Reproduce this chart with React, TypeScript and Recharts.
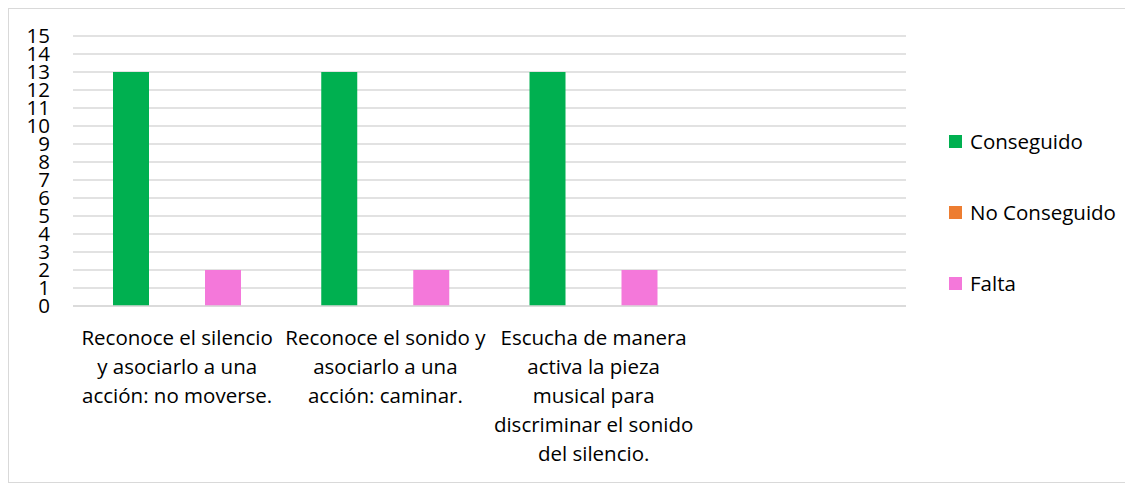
import React from 'react';
import { BarChart, Bar, XAxis, YAxis, CartesianGrid, Legend } from 'recharts';

const categories = [
  'Reconoce el silencio\ny asociarlo a una\nacción: no moverse.',
  'Reconoce el sonido y\nasociarlo a una\nacción: caminar.',
  'Escucha de manera\nactiva la pieza\nmusical para\ndiscriminar el sonido\ndel silencio.',
  '',
];
const conseguido = [13, 13, 13, null];
const noConseguido = [0, 0, 0, null];
const falta = [2, 2, 2, null];
const yTicks = [0, 1, 2, 3, 4, 5, 6, 7, 8, 9, 10, 11, 12, 13, 14, 15];

const series = [
  { key: 'conseguido', name: 'Conseguido', color: '#00B050' },
  { key: 'noConseguido', name: 'No Conseguido', color: '#ED7D31' },
  { key: 'falta', name: 'Falta', color: '#F478DA' },
];

const data = categories.map((c, i) => ({
  name: c,
  conseguido: conseguido[i],
  noConseguido: noConseguido[i],
  falta: falta[i],
}));

const FONT = '"Open Sans", Carlito, Calibri, sans-serif';
const FS = 20.5;

const XTick = (props: any) => {
  const { x, y, payload } = props;
  const lines = String(payload.value).split('\n');
  return (
    <text x={x} y={y} textAnchor="middle" fontFamily={FONT} fontSize={FS} fill="#000">
      {lines.map((l, i) => (
        <tspan key={i} x={x} dy={i === 0 ? 39 : 29}>
          {l}
        </tspan>
      ))}
    </text>
  );
};

const LegendContent = () => (
  <div style={{ fontFamily: FONT, fontSize: FS, color: '#000' }}>
    {series.map((s, i) => (
      <div key={s.key} style={{ display: 'flex', alignItems: 'center', height: 30, marginBottom: i < series.length - 1 ? 41 : 0 }}>
        <div style={{ width: 13, height: 13, background: s.color, marginRight: 8 }} />
        <span>{s.name}</span>
      </div>
    ))}
  </div>
);

export default function App() {
  return (
    <div
      style={{
        width: 1125,
        height: 475,
        border: '1px solid #D9D9D9',
        boxSizing: 'border-box',
        background: '#fff',
        position: 'relative',
      }}
    >
      <BarChart
        width={1123}
        height={473}
        data={data}
        margin={{ top: 27, right: 226, bottom: 76, left: 0 }}
        barSize={36}
        barGap={10}
      >
        <CartesianGrid horizontal vertical={false} stroke="#D9D9D9" strokeWidth={1.5} />
        <XAxis
          dataKey="name"
          interval={0}
          height={100}
          tickLine={false}
          axisLine={{ stroke: '#D9D9D9', strokeWidth: 1.5 }}
          tick={<XTick />}
          tickSize={0}
          tickMargin={0}
        />
        <YAxis
          width={64}
          domain={[0, 15]}
          ticks={yTicks}
          interval={0}
          tickLine={false}
          axisLine={false}
          tickSize={0}
          tickMargin={23}
          tick={{ fontFamily: FONT, fontSize: FS, fill: '#000' }}
        />
        <Legend
          layout="horizontal"
          verticalAlign="middle"
          align="center"
          content={<LegendContent />}
          wrapperStyle={{ left: 940, top: 117, width: 180, height: 180 }}
        />
        {series.map((s) => (
          <Bar key={s.key} dataKey={s.key} name={s.name} fill={s.color} isAnimationActive={false} />
        ))}
      </BarChart>
    </div>
  );
}
